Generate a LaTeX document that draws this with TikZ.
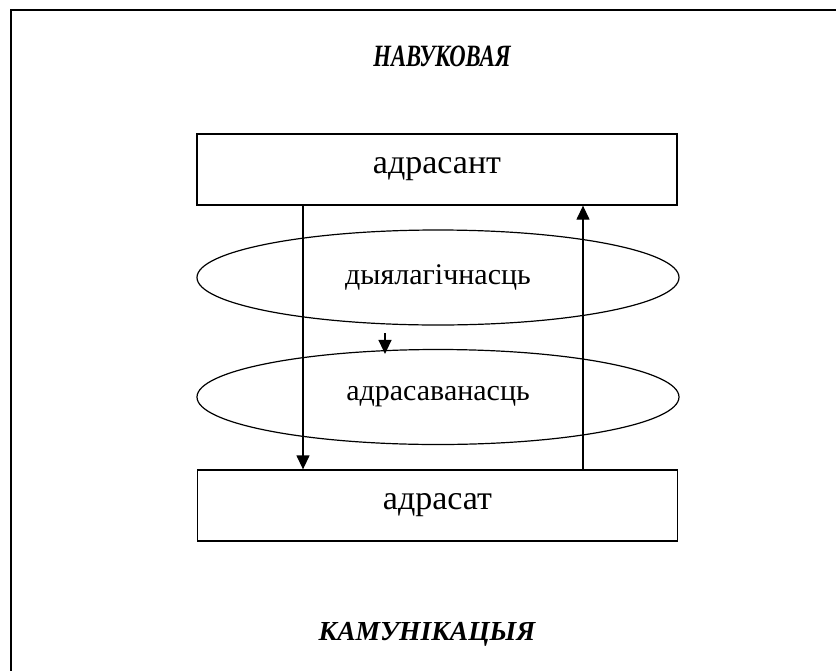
\documentclass[tikz,border=0pt]{standalone}
\usepackage{fontspec}
\setmainfont{Liberation Serif}
\newfontfamily\nfont[FakeStretch=0.73]{Liberation Serif}
\usetikzlibrary{shapes.geometric,arrows.meta}
\begin{document}
\begin{tikzpicture}[x=1pt,y=-1pt,
  box/.style={draw,line width=1.3pt,minimum width=480pt,minimum height=71pt,inner sep=0pt,
    font=\fontsize{34}{34}\selectfont},
  oval/.style={draw,ellipse,line width=1.2pt,minimum width=482pt,minimum height=95pt,inner sep=0pt,
    font=\fontsize{30}{30}\selectfont},
  title/.style={font=\bfseries\itshape\fontsize{27.5}{27.5}\selectfont,inner sep=0pt,anchor=base},
  arr/.style={line width=1.3pt,-{Triangle[width=13pt,length=14pt]}}]
\useasboundingbox (0,0) rectangle (836,670);
\draw[line width=2pt] (11,672) -- (11,10) -- (838,10);

\node[title,font=\nfont\bfseries\itshape\fontsize{31}{31}\selectfont] (t1) at (442,66) {НАВУКОВАЯ};
\node[title] (t2) at (427,640) {КАМУНІКАЦЫЯ};

\node[box] (snd) at (437,169.5) {адрасант};
\node[box] (rcv) at (437.5,505.5) {адрасат};
\node[oval] (dia) at (438,277.5) {дыялагічнасць};
\node[oval] (adr) at (438,397) {адрасаванасць};

\coordinate (lx) at (303,0);
\coordinate (rx) at (583,0);
\coordinate (s) at (385,333);

\draw[arr] (snd.south -| lx) -- (rcv.north -| lx);
\draw[arr] (rcv.north -| rx) -- (snd.south -| rx);
\draw[arr] (s) -- ([yshift=-5pt]adr.north -| s);
\end{tikzpicture}
\end{document}
